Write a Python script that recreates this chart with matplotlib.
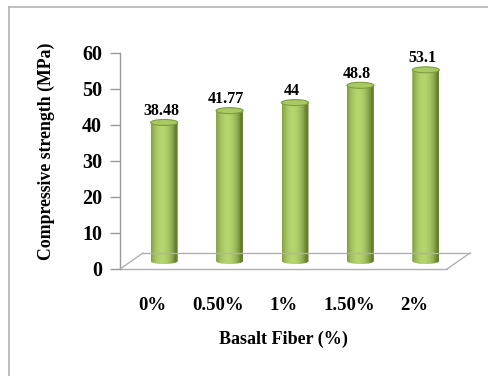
import numpy as np
import matplotlib
matplotlib.use("Agg")
import matplotlib.pyplot as plt
from matplotlib.patches import Rectangle, Ellipse, PathPatch
from matplotlib.path import Path
from matplotlib.lines import Line2D
import matplotlib.transforms as mtransforms
from matplotlib.colors import to_rgb

categories = ["0%", "0.50%", "1%", "1.50%", "2%"]
strength = [38.48, 41.77, 44, 48.8, 53.1]
value_labels = ["38.48", "41.77", "44", "48.8", "53.1"]
y_ticks = [0, 10, 20, 30, 40, 50, 60]

W, H, DPI = 488, 376, 100
fig = plt.figure(figsize=(W / DPI, H / DPI), dpi=DPI)
fig.patch.set_facecolor("white")

# chart frame (runs off the right and bottom edges)
fig.add_artist(Line2D([9 / W, 1.0], [1 - 7 / H, 1 - 7 / H], color="#b3b3b3", lw=1.2,
                      transform=fig.transFigure))
fig.add_artist(Line2D([9 / W, 9 / W], [0, 1 - 7 / H], color="#b3b3b3", lw=1.2,
                      transform=fig.transFigure))

x0, x1 = 120, 447
y0, y1 = 269, 53
ax = fig.add_axes([x0 / W, 1 - y0 / H, (x1 - x0) / W, (y0 - y1) / H])
ax.set_xlim(-0.5, len(categories) - 0.5)
ax.set_ylim(0, 60)
for s in ["top", "right", "bottom"]:
    ax.spines[s].set_visible(False)
ax.spines["left"].set_color("#9a9a9a")
ax.spines["left"].set_linewidth(1.0)
ax.set_yticks(y_ticks)
ax.tick_params(axis="y", length=7, color="#9a9a9a", width=1.0, pad=6)
ax.tick_params(axis="x", length=0, pad=20)
ax.set_xticks(range(len(categories)))
ax.set_xticklabels(categories)

for lab in ax.get_yticklabels():
    lab.set(family="Liberation Serif", weight="bold", size=14.5)
for lab in ax.get_xticklabels():
    lab.set(family="Liberation Serif", weight="bold", size=13.5)

ax.set_xlabel("Basalt Fiber (%)", family="Liberation Serif", weight="bold",
              size=13, labelpad=12)
ax.set_ylabel("Compressive strength (MPa)", family="Liberation Serif", weight="bold",
              size=12.8)
ax.yaxis.set_label_coords(-0.2, 0.546)

# depth offsets for the 3-D look
depth = mtransforms.ScaledTranslation(23 / DPI, 16 / DPI, fig.dpi_scale_trans)
mid = mtransforms.ScaledTranslation(11.5 / DPI, 8 / DPI, fig.dpi_scale_trans)
t_back = ax.transData + depth
t_mid = ax.transData + mid

# floor
xl, xr = -0.5, len(categories) - 0.5
floor_col = "#b0b0b0"
ax.add_line(Line2D([xl, xr], [0, 0], color=floor_col, lw=1.0, clip_on=False))
ax.add_line(Line2D([xl, xr], [0, 0], color=floor_col, lw=1.0, clip_on=False,
                   transform=t_back))
for xe in (xl, xr):
    p_front = ax.transData.transform((xe, 0))
    p_back = t_back.transform((xe, 0))
    fig.add_artist(Line2D([p_front[0] / W, p_back[0] / W],
                          [p_front[1] / H, p_back[1] / H],
                          color=floor_col, lw=1.0, transform=fig.transFigure))

# cylinders
bw = 27 / 65.4
cap_h = 6 / 3.6
dark = np.array(to_rgb("#66802e"))
light = np.array(to_rgb("#b4d46e"))
nstrip = 40
for i, v in enumerate(strength):
    xa, xb = i - bw / 2, i + bw / 2
    th = np.linspace(np.pi, 2 * np.pi, 40)
    lower = np.column_stack([i + bw / 2 * np.cos(th), cap_h / 2 * np.sin(th)])
    verts = np.vstack([lower, [[xb, v], [xa, v], lower[0]]])
    outline = PathPatch(Path(verts), facecolor="none", edgecolor="none",
                        transform=t_mid)
    ax.add_patch(outline)
    edges = np.linspace(xa, xb, nstrip + 1)
    for k in range(nstrip):
        t = (edges[k] + edges[k + 1]) / 2 - i
        u = t / (bw / 2)
        shade = np.clip(np.cos((u + 0.15) * np.pi / 2 * 1.05), 0, 1) ** 0.7
        col = dark + (light - dark) * shade
        r = Rectangle((edges[k], -cap_h), edges[k + 1] - edges[k] + 0.002, v + cap_h,
                      facecolor=col, edgecolor="none", transform=t_mid)
        ax.add_patch(r)
        r.set_clip_path(outline)
    ax.add_patch(Ellipse((i, v), bw, cap_h, facecolor="#a9c964",
                         edgecolor="#7f9c40", lw=0.8, transform=t_mid))
    ax.text(i - 0.05, v + 1.0, value_labels[i], ha="center", va="bottom",
            family="Liberation Serif", weight="bold", size=11.5, transform=t_mid)

fig.savefig("out.png", dpi=DPI)
